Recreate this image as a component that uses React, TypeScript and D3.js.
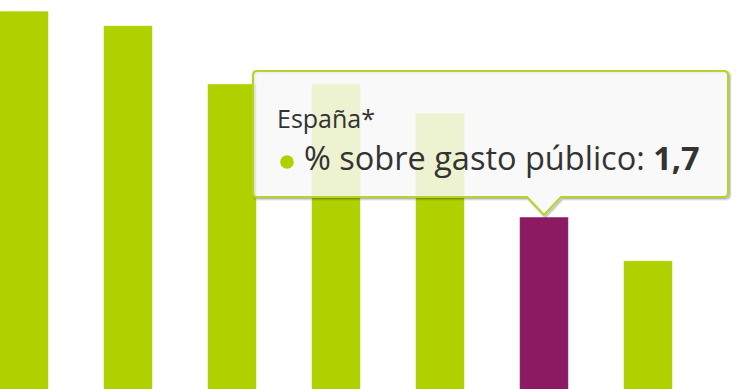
import React from "react";
import * as d3 from "d3";

// Public spending share per country; only the highlighted one is labelled on screen
const categories = ["País 1", "País 2", "País 3", "País 4", "País 5", "España*", "País 7"];
const values = [2.69, 2.62, 2.34, 2.34, 2.2, 1.7, 1.49];
const seriesName = "% sobre gasto público";
const highlighted = "España*";

const W = 740;
const H = 389;
const GREEN = "#b1d000";
const PURPLE = "#8b1a62";
const TEXT = "#333333";
const FONT = "'Open Sans', sans-serif";

const fmt = (v: number) => d3.format(".1f")(v).replace(".", ",");

export default function App() {
  const x = d3
    .scaleBand<string>()
    .domain(categories)
    .range([-28, -28 + categories.length * 104])
    .paddingInner(0.53)
    .paddingOuter(0.265);

  const y = d3.scaleLinear().domain([0, 3]).range([570.6, 570.6 - 3 * 208]);

  const hi = categories.indexOf(highlighted);
  const hv = values[hi];
  const tipX = (x(highlighted) as number) + x.bandwidth() / 2;
  const tipY = y(hv);

  // tooltip box geometry; the pointer ends on the top of the highlighted bar
  const bx = 253;
  const by = 71;
  const bw = 475;
  const bh = 126;
  const r = 4;
  const pw = 17;
  const bottom = by + bh;
  const tipPath = [
    `M ${bx + r} ${by}`,
    `L ${bx + bw - r} ${by}`,
    `Q ${bx + bw} ${by} ${bx + bw} ${by + r}`,
    `L ${bx + bw} ${bottom - r}`,
    `Q ${bx + bw} ${bottom} ${bx + bw - r} ${bottom}`,
    `L ${tipX + pw} ${bottom}`,
    `L ${tipX} ${tipY - 2}`,
    `L ${tipX - pw} ${bottom}`,
    `L ${bx + r} ${bottom}`,
    `Q ${bx} ${bottom} ${bx} ${bottom - r}`,
    `L ${bx} ${by + r}`,
    `Q ${bx} ${by} ${bx + r} ${by}`,
    "Z",
  ].join(" ");

  return (
    <svg
      width={W}
      height={H}
      style={{ position: "fixed", left: 0, top: 0, background: "#ffffff" }}
    >
      <g>
        {categories.map((c, i) => (
          <rect
            key={c}
            x={x(c)}
            y={y(values[i])}
            width={x.bandwidth()}
            height={Math.max(0, y(0) - y(values[i]))}
            fill={c === highlighted ? PURPLE : GREEN}
            stroke="#ffffff"
            strokeOpacity={0.5}
            strokeWidth={1}
          />
        ))}
      </g>
      <g>
        {[5, 3, 1].map((sw, k) => (
          <path
            key={sw}
            d={tipPath}
            transform="translate(1.5,1.5)"
            fill="none"
            stroke="#000000"
            strokeOpacity={0.05 * (k + 1)}
            strokeWidth={sw}
          />
        ))}
        <path
          d={tipPath}
          fill="rgba(248,248,248,0.84)"
          stroke="#b6d42c"
          strokeWidth={2.2}
        />
        <text x={277} y={128} fontFamily={FONT} fontSize={25} fill={TEXT}>
          {highlighted}
        </text>
        <circle cx={287} cy={162} r={6.8} fill={GREEN} />
        <text x={304} y={170} fontFamily={FONT} fontSize={32.5} fill={TEXT}>
          {seriesName}:{" "}
          <tspan fontWeight="bold">{fmt(hv)}</tspan>
        </text>
      </g>
    </svg>
  );
}
